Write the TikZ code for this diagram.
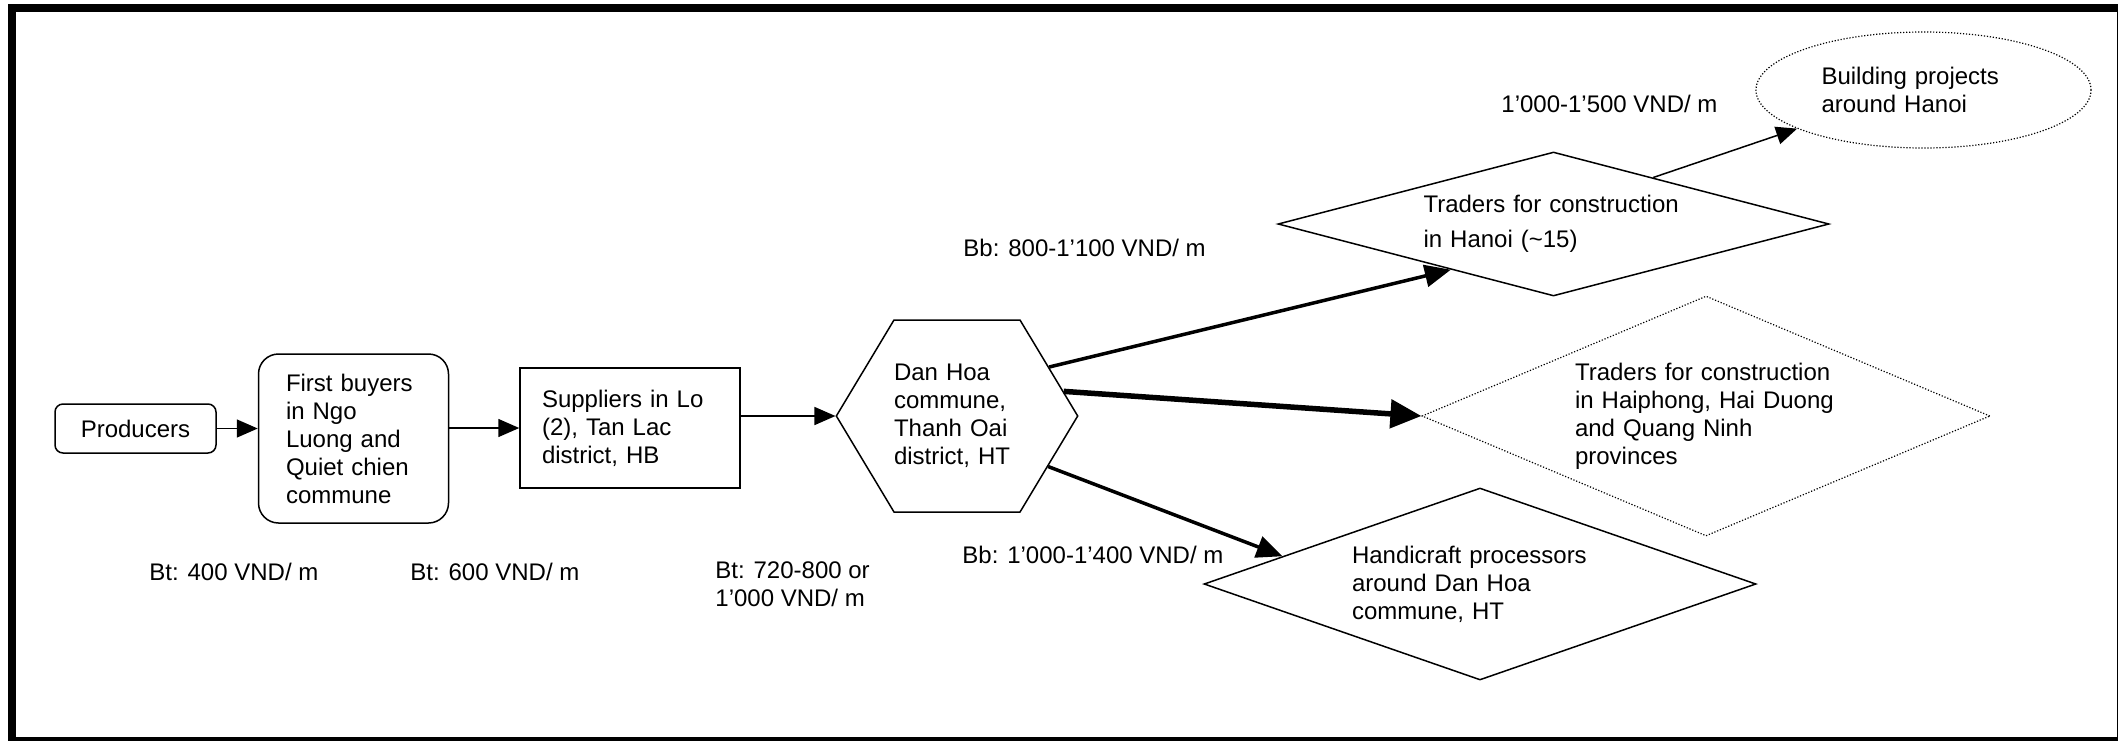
\documentclass[tikz,border=0pt]{standalone}
\usepackage{fontspec}
\setmainfont{Liberation Sans}
\usetikzlibrary{arrows.meta,shapes.geometric,shapes.symbols}
\begin{document}
\begin{tikzpicture}[x=0.5pt,y=-0.5pt,
  font=\fontsize{12pt}{14pt}\selectfont,
  box/.style={draw,line width=0.75pt,inner sep=0pt},
  lbl/.style={anchor=west,inner sep=0pt},
  arr/.style={line width=0.75pt,-{Triangle[length=10.5pt,width=9pt]}},
  arrthick/.style={line width=1.75pt,-{Triangle[length=13pt,width=11pt]}},
  arrheavy/.style={line width=2.75pt,-{Triangle[length=15.5pt,width=14pt]}},
  fine dots/.style={line width=0.6pt,dash pattern=on 0.6pt off 0.9pt}]
\useasboundingbox (0,0) rectangle (2118,740);
% outer frame
\draw[line width=4pt] (12,8) rectangle (2121,741);

% chain of collectors
\node[box,rounded corners=4pt,minimum width=80.5pt,minimum height=24.5pt] (prod) at (135.5,428.5) {Producers};
\node[box,rounded corners=10pt,minimum width=95pt,minimum height=84.5pt,text width=67.5pt,align=left] (fb) at (353.5,438.5)
  {First buyers\\in Ngo\\Luong and\\Quiet chien\\commune};
\node[box,minimum width=110pt,minimum height=60pt,text width=88pt,align=left] (sup) at (630,428)
  {Suppliers in Lo\\(2), Tan Lac\\district, HB};
\node[box,signal,signal to=east and west,signal pointer angle=118,minimum width=117pt,minimum height=96pt,text width=63pt,align=left] (hex) at (957,416)
  {Dan Hoa\\commune,\\Thanh Oai\\district, HT};

% destinations
\node[box,diamond,aspect=3.8,minimum width=275.5pt,minimum height=72pt,text width=130pt,align=left,
  font=\fontsize{12pt}{17.5pt}\selectfont] (hanoi) at (1553.5,224)
  {Traders for construction\\in Hanoi (\textasciitilde15)};
\node[box,fine dots,diamond,aspect=2.37,minimum width=284pt,minimum height=120pt,text width=131pt,align=left] (haip) at (1706,416)
  {Traders for construction\\in Haiphong, Hai Duong\\and Quang Ninh\\provinces};
\node[box,diamond,aspect=2.875,minimum width=276pt,minimum height=96pt,text width=128pt,align=left] (handi) at (1480,584)
  {Handicraft processors\\around Dan Hoa\\commune, HT};
\node[box,fine dots,ellipse,minimum width=167.5pt,minimum height=58pt,text width=102pt,align=left] (bp) at (1923.5,90)
  {Building projects\\around Hanoi};

% flows
\draw[arr] (prod.east) -- (prod.east -| fb.west);
\draw[arr] (sup.west -| fb.east) -- (sup.west);
\draw[arr] (sup.east |- hex.west) -- (hex.west);
\draw[arrthick] (hex.28) -- (hanoi.204);
\draw[arrheavy] (hex.13) -- (haip.west);
\draw[arrthick] (hex.331) -- (handi.172);
\draw[arr] (hanoi.25) -- (bp.197);

% prices
\node[lbl] (p1) at (149,572) {Bt: 400 VND/ m};
\node[lbl] (p2) at (410,572) {Bt: 600 VND/ m};
\node[lbl,align=left] (p3) at (715,584) {Bt: 720-800 or\\1’000 VND/ m};
\node[lbl] (p4) at (963,248) {Bb: 800-1’100 VND/ m};
\node[lbl] (p5) at (962,555) {Bb: 1’000-1’400 VND/ m};
\node[lbl] (p6) at (1501,104) {1’000-1’500 VND/ m};
\end{tikzpicture}
\end{document}
